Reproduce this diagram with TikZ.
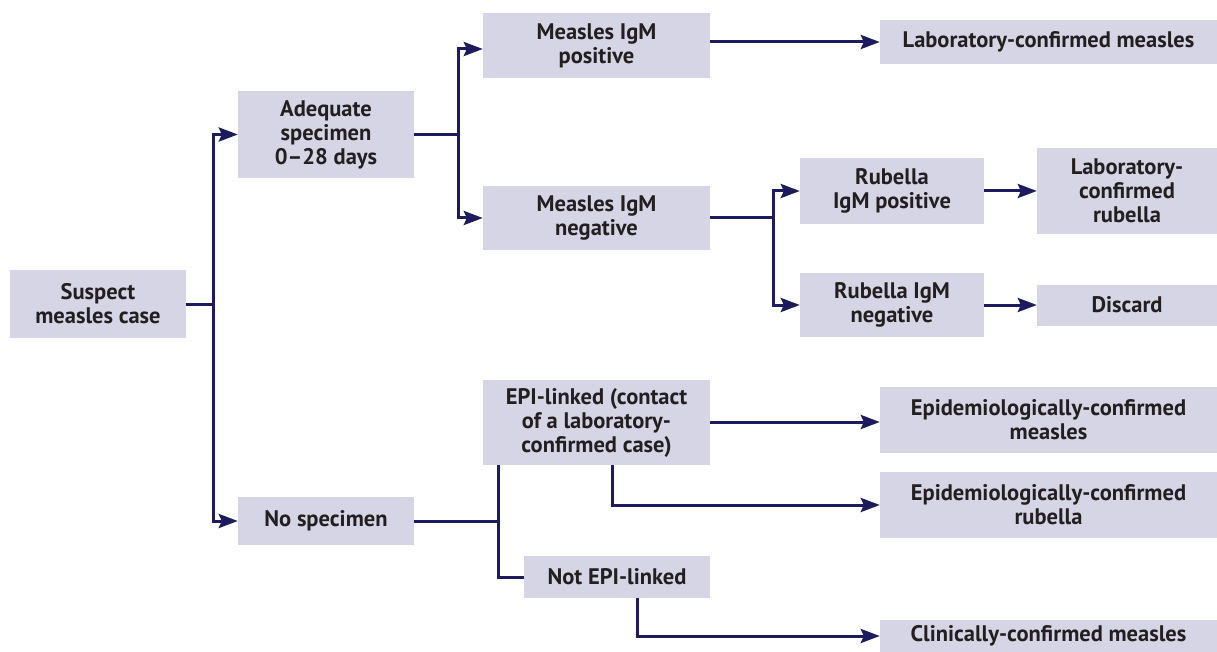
\documentclass[tikz,border=0pt]{standalone}
\usepackage{fontspec}
\setmainfont{PT Sans}
\usetikzlibrary{arrows.meta}
\definecolor{boxfill}{HTML}{D6D5E6}
\definecolor{linecol}{HTML}{1E1A5E}
\definecolor{txtcol}{HTML}{231F20}
\begin{document}
\begin{tikzpicture}[x=1pt,y=-1pt,
  box/.style={fill=boxfill, draw=none, inner sep=0pt, align=center, text=txtcol,
    font=\fontsize{22.5}{24}\selectfont\bfseries},
  conn/.style={draw=linecol, line width=3pt},
  arr/.style={conn, -{Stealth[length=19pt,width=14pt,inset=3pt]}}]
\useasboundingbox (0,0) rectangle (1217,652);
\newcommand\bx[6]{\node[box, minimum width=#4, minimum height=#5] (#1) at (#2,#3) {#6};}
\bx{susp}{98}{304}{176}{68}{Suspect\\measles case}
\bx{adeq}{326}{134.5}{176}{87}{Adequate\\specimen\\0--28 days}
\bx{nospec}{326}{521}{176}{48}{No specimen}
\bx{mpos}{596.5}{45.5}{227}{65}{Measles IgM\\positive}
\bx{mneg}{596.5}{218}{227}{64}{Measles IgM\\negative}
\bx{labm}{1048.5}{42}{337}{44}{Laboratory-confirmed measles}
\bx{rpos}{892}{191}{184}{66}{Rubella\\IgM positive}
\bx{rneg}{892}{305}{184}{64}{Rubella IgM\\negative}
\bx{labr}{1127}{191}{180}{86}{Laboratory-\\confirmed\\rubella}
\bx{disc}{1127}{305}{180}{41}{Discard}
\bx{epi}{596.5}{422.5}{227}{85}{EPI-linked (contact\\of a laboratory-\\confirmed case)}
\bx{epim}{1048.5}{420}{337}{66}{Epidemiologically-confirmed\\measles}
\bx{epir}{1048.5}{505}{337}{66}{Epidemiologically-confirmed\\rubella}
\bx{notepi}{617}{577}{186}{42}{Not EPI-linked}
\bx{clin}{1048.5}{636}{337}{32}{Clinically-confirmed measles}
\coordinate (j1) at (213,304);
\coordinate (j2) at (458,134);
\coordinate (j3) at (773,218);
\coordinate (j4) at (498,521);
\coordinate (e1) at (612,465);
\coordinate (n1) at (637,598);
\draw[conn] (susp.east) -- (susp.east -| j1);
\draw[arr] (j1) |- (adeq.west);
\draw[arr] (j1) |- (nospec.west);
\draw[conn] (adeq.east) -- (adeq.east -| j2);
\draw[arr] (j2) |- ([yshift=-3.5pt]mpos.west);
\draw[arr] (j2) |- (mneg.west);
\draw[arr] (mpos.east |- labm.west) -- (labm.west);
\draw[conn] (mneg.east) -- (mneg.east -| j3);
\draw[arr] (j3) |- (rpos.west);
\draw[arr] (j3) |- (rneg.west);
\draw[arr] (rpos.east) -- (labr.west);
\draw[arr] (rneg.east) -- (disc.west);
\draw[conn] (nospec.east) -- (nospec.east -| j4);
\draw[conn] (epi.south -| j4) -- (j4) |- (notepi.west);
\draw[arr] (epi.east |- 0,422) -- (epim.west |- 0,422);
\draw[arr] (e1) |- (epir.west);
\draw[arr] (n1) |- (clin.west);
\end{tikzpicture}
\end{document}
